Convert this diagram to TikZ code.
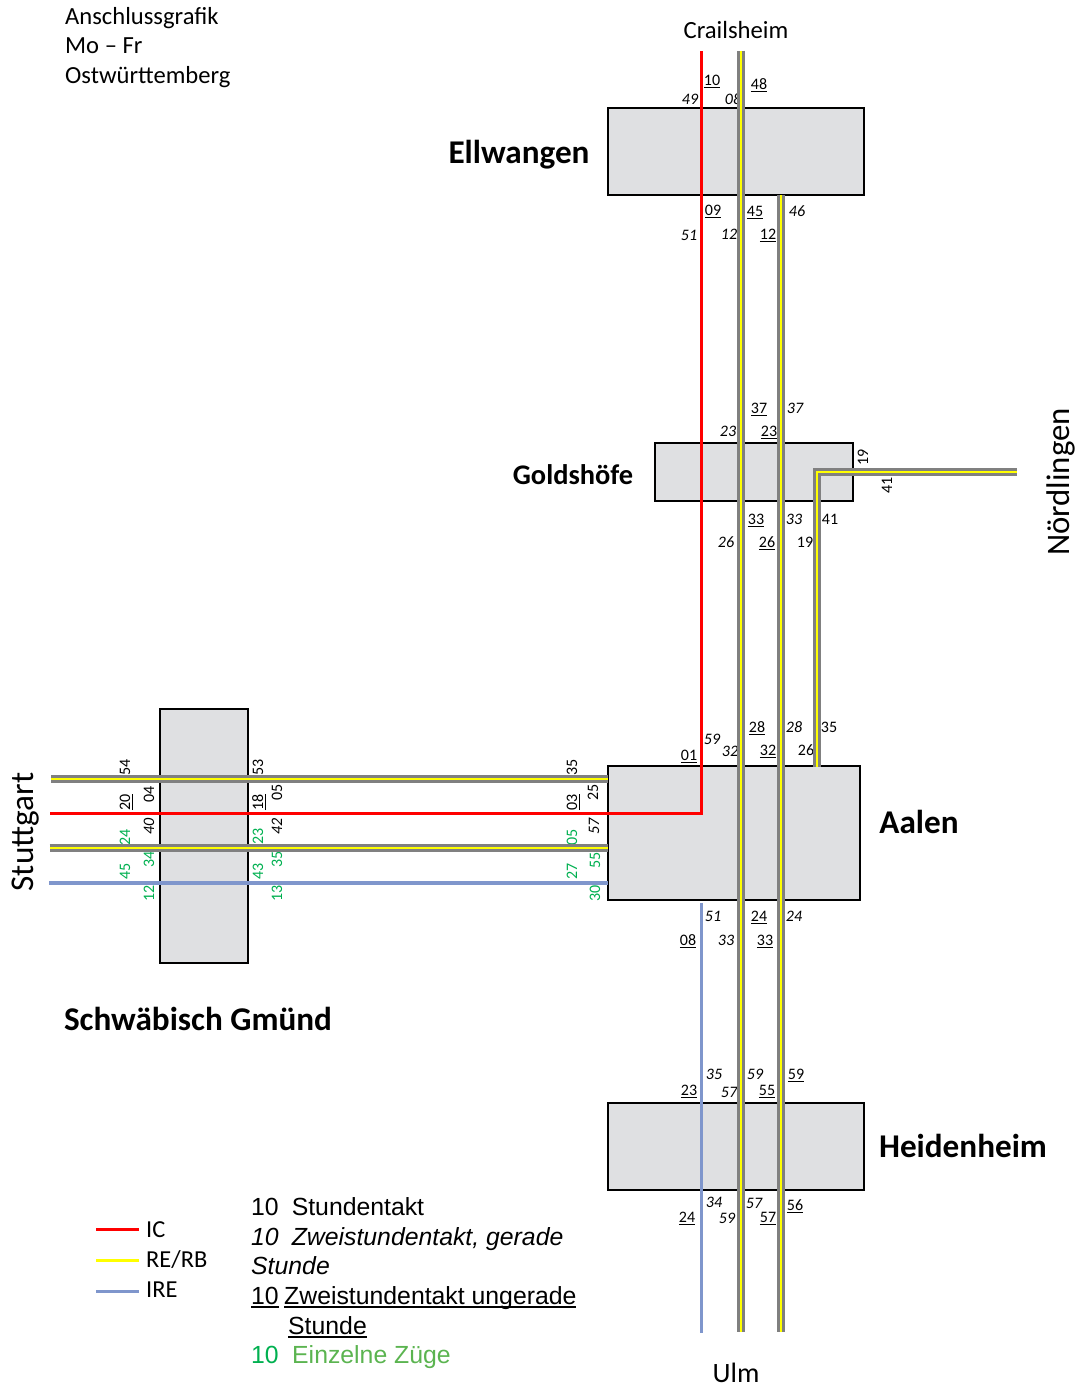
\documentclass[tikz,border=0pt]{standalone}
\usepackage{fontspec}
\setmainfont{Carlito}
\newfontfamily\arialf{Liberation Sans}
\definecolor{boxfill}{HTML}{DFE0E2}
\definecolor{railgrey}{HTML}{808080}
\definecolor{railyel}{HTML}{FFFF00}
\definecolor{ire}{HTML}{7F96CC}
\definecolor{icred}{HTML}{FF0000}
\definecolor{grn}{HTML}{00B050}
\definecolor{grnl}{HTML}{5BB450}
\newcounter{labc}
\newcommand{\Ubar}[3]{\setbox0=\hbox{#3}\rlap{\rule[-#1]{\wd0}{#2}}\box0 }
\newcommand{\Lab}[4][]{\stepcounter{labc}\node[num,#1] (n\thelabc) at (#2,#3) {#4};}
\newcommand{\Lu}[3]{\Lab{#1}{#2}{\Ubar{3pt}{1.2pt}{#3}}}
\newcommand{\Li}[3]{\Lab{#1}{#2}{\itshape #3}}
\newcommand{\Ln}[3]{\Lab{#1}{#2}{#3}}
\newcommand{\Ru}[3]{\Lab[rotate=90]{#1}{#2}{\Ubar{3pt}{1.2pt}{#3}}}
\newcommand{\Ri}[3]{\Lab[rotate=90]{#1}{#2}{\itshape #3}}
\newcommand{\Rn}[3]{\Lab[rotate=90]{#1}{#2}{#3}}
\newcommand{\Rg}[3]{\Lab[rotate=90,text=grn]{#1}{#2}{#3}}
\tikzset{
  station/.style={draw=black,fill=boxfill,line width=2pt,inner sep=0pt},
  num/.style={inner sep=0pt,text height=10pt,text depth=0pt,font=\fontsize{16}{18}\selectfont},
  city/.style={inner sep=0pt},
  bigname/.style={inner sep=0pt,font=\bfseries\fontsize{33.2}{38}\selectfont},
  goldname/.style={inner sep=0pt,font=\bfseries\fontsize{28.4}{32}\selectfont},
  titletext/.style={inner sep=0pt,anchor=base west,font=\fontsize{24.6}{29}\selectfont},
  legtext/.style={inner sep=0pt,anchor=base west,font=\fontsize{24.4}{29}\selectfont},
  keytext/.style={inner sep=0pt,anchor=base west,font=\arialf\fontsize{24.8}{30}\selectfont},
  railo/.style={draw=railgrey,line width=7.4pt,line cap=butt,line join=miter},
  raili/.style={draw=railyel,line width=2.4pt,line cap=butt,line join=miter},
  icline/.style={draw=icred,line width=3pt,line join=miter},
  ireline/.style={draw=ire,line width=3.2pt},
  keyline/.style={line width=3pt},
}
\begin{document}
\begin{tikzpicture}[x=1pt,y=-1pt]
\useasboundingbox (0,0) rectangle (1079,1387);
% stations
\node[station,minimum width=256pt,minimum height=87pt] (ell) at (736,151.7) {};
\node[station,minimum width=198pt,minimum height=58pt] (gold) at (754,472) {};
\node[station,minimum width=252pt,minimum height=134pt] (aal) at (734,833) {};
\node[station,minimum width=256pt,minimum height=87pt] (hei) at (736,1146) {};
\node[station,minimum width=88pt,minimum height=254pt] (gmu) at (204,836) {};
% names
\node[bigname] (nEll) at (519,155) {Ellwangen};
\node[goldname] (nGold) at (573,475) {Goldshöfe};
\node[bigname] (nAal) at (919,822) {Aalen};
\node[bigname] (nHei) at (963,1146) {Heidenheim};
\node[bigname] (nGmu) at (198,1019) {Schwäbisch Gmünd};
\node[city,font=\fontsize{24.7}{29}\selectfont] (nCrail) at (736,30) {Crailsheim};
\node[city,anchor=base,font=\fontsize{28}{30}\selectfont] (nUlm) at (736,1382.5) {Ulm};
\node[city,rotate=90,font=\fontsize{33.2}{36}\selectfont] (nStu) at (25.5,832) {Stuttgart};
\node[city,rotate=90,font=\fontsize{32.8}{36}\selectfont] (nNoe) at (1061,482) {Nördlingen};
\node[titletext] (t1) at (65,24) {Anschlussgrafik};
\node[titletext] (t2) at (65,53) {Mo -- Fr};
\node[titletext] (t3) at (65,83) {Ostwürttemberg};
% labels (drawn before the lines, which may clip them)
\Lu{712}{80}{10}\Lu{759}{84}{48}\Li{690}{99}{49}\Li{733}{99}{08}
\Lu{713}{210}{09}\Lu{755}{211}{45}\Li{797}{211}{46}
\Li{689}{235}{51}\Li{729}{234}{12}\Lu{768}{234}{12}
\Lu{759}{408}{37}\Li{795}{408}{37}\Li{728}{431}{23}\Lu{769}{431}{23}
\Lu{756}{519}{33}\Li{794}{519}{33}\Ln{830}{519}{41}
\Li{726}{542}{26}\Lu{767}{542}{26}\Ln{805}{542}{19}
\Rn{863}{457}{19}\Rn{887}{485}{41}
\Lu{757}{727}{28}\Li{794}{727}{28}\Ln{829}{727}{35}
\Li{712}{739}{59}\Li{730}{751}{32}\Lu{768}{750}{32}\Ln{806}{750}{26}\Lu{689}{755}{01}
\Li{713}{916}{51}\Lu{759}{916}{24}\Li{794}{916}{24}
\Lu{688}{940}{08}\Li{726}{940}{33}\Lu{765}{940}{33}
\Li{714}{1074}{35}\Li{755}{1074}{59}\Lu{796}{1074}{59}
\Lu{689}{1090}{23}\Li{729}{1092}{57}\Lu{767}{1090}{55}
\Li{714}{1202}{34}\Li{754}{1203}{57}\Lu{795}{1205}{56}
\Lu{687}{1217}{24}\Li{727}{1218}{59}\Lu{768}{1217}{57}
\Rn{125}{767}{54}\Rn{258}{767}{53}\Rn{572}{767}{35}
\Ru{125}{802}{20}\Rn{149}{794}{04}\Ru{258}{802}{18}\Rn{277}{792}{05}\Ru{572}{802}{03}\Rn{593}{792}{25}
\Ri{149}{826}{40}\Ri{277}{826}{42}\Ri{594}{826}{57}
\Rg{125}{837}{24}\Rg{258}{836}{23}\Rg{572}{837}{05}
\Rg{149}{859}{34}\Rg{277}{859}{35}\Rg{595}{860}{55}
\Rg{125}{871}{45}\Rg{258}{871}{43}\Rg{572}{871}{27}
\Rg{149}{893}{12}\Rg{277}{893}{13}\Rg{595}{893}{30}
% line ends
\coordinate (aT) at (741,50.5); \coordinate (aB) at (741,1332);
\coordinate (bT) at (781,195); \coordinate (bB) at (781,1332);
\coordinate (cT) at (817,766.5); \coordinate (cM) at (817,472); \coordinate (cR) at (1017,472);
\coordinate (dL) at (51,779); \coordinate (dR) at (608,779);
\coordinate (eL) at (49.5,848); \coordinate (eR) at (608,848);
\coordinate (rT) at (701.5,51); \coordinate (rM) at (701.5,535); \coordinate (rM2) at (701.7,535); \coordinate (rC) at (701.7,813.2);
\coordinate (rL) at (119,813.2); \coordinate (rL2) at (119,813.7); \coordinate (rE) at (50,813.7);
\coordinate (iT) at (701.5,903); \coordinate (iB) at (701.5,1333);
\coordinate (jL) at (49,883); \coordinate (jR) at (608,883);
% IRE
\draw[ireline] (jL) -- (jR);
\draw[ireline] (iT) -- (iB);
% rails
\foreach \s in {railo,raili}{
  \draw[\s] (aT) -- (aB);
  \draw[\s] (bT) -- (bB);
  \draw[\s] (cT) -- (cM) -- (cR);
  \draw[\s] (dL) -- (dR);
  \draw[\s] (eL) -- (eR);
}
% IC
\draw[icline] (rM2) -- (rC) -- (rL);
\draw[icline] (rT) -- (rM);
\draw[icline] (rL2) -- (rE);
% legend
\coordinate (l1a) at (96,1229.3); \coordinate (l1b) at (139,1229.3);
\coordinate (l2a) at (96,1260.3); \coordinate (l2b) at (139,1260.3);
\coordinate (l3a) at (96,1291); \coordinate (l3b) at (139,1291);
\draw[keyline,draw=icred] (l1a) -- (l1b);
\draw[keyline,draw=railyel] (l2a) -- (l2b);
\draw[keyline,draw=ire] (l3a) -- (l3b);
\node[legtext] (k1) at (146,1237) {IC};
\node[legtext] (k2) at (146,1267) {RE/RB};
\node[legtext] (k3) at (146,1297) {IRE};
\node[keytext] (s1) at (251,1215) {10\hspace{13pt}Stundentakt};
\node[keytext] (s2) at (251,1245) {\itshape 10\hspace{13pt}Zweistundentakt, gerade};
\node[keytext] (s3) at (251,1274) {\itshape Stunde};
\node[keytext] (s4) at (251,1304) {\Ubar{4pt}{2pt}{10}};
\node[keytext] (s5) at (284,1304) {\Ubar{4pt}{2pt}{Zweistundentakt ungerade}};
\node[keytext] (s6) at (288,1334) {\Ubar{4pt}{2pt}{Stunde}};
\node[keytext,text=grn] (s7) at (251,1363) {10};
\node[keytext,text=grnl] (s8) at (292,1363) {Einzelne Züge};
\end{tikzpicture}
\end{document}
